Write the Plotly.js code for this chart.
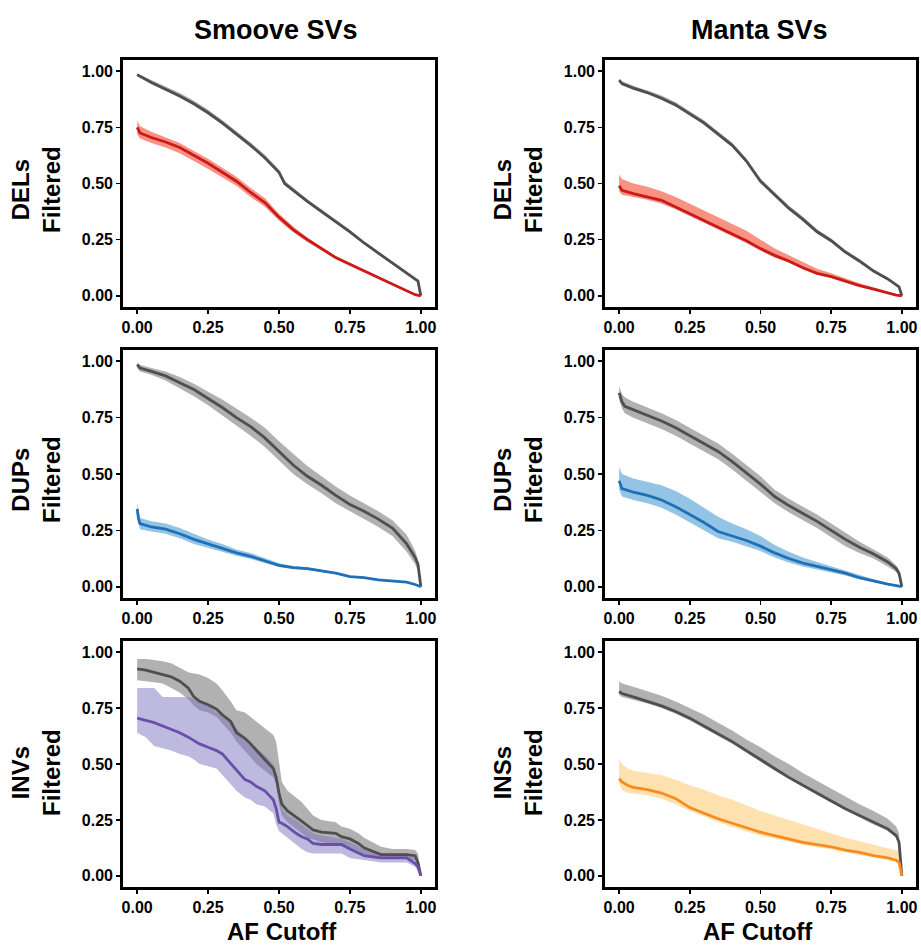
<!DOCTYPE html>
<html>
<head>
<meta charset="utf-8">
<script src="https://cdn.plot.ly/plotly-3.0.1.min.js"></script>
<style>html,body{margin:0;padding:0;background:#fff;}#chart{width:921px;height:948px;}</style>
</head>
<body>
<div id="chart"></div>
<script>
// ---------- DATA ----------
const columnTitles = ["Smoove SVs", "Manta SVs"];
const panelLabels = ["DELs", "DELs", "DUPs", "DUPs", "INVs", "INSs"];
const xTitle = "AF Cutoff";
const tickVals = [0, 0.25, 0.5, 0.75, 1.0];
const tickText = ["0.00", "0.25", "0.50", "0.75", "1.00"];

// Panel 1: Smoove DELs
const p1GrayX = [0, 0.05, 0.1, 0.15, 0.2, 0.25, 0.3, 0.35, 0.4, 0.45, 0.5, 0.52, 0.55, 0.6, 0.65, 0.7, 0.75, 0.8, 0.85, 0.9, 0.95, 0.98, 0.99, 1.0];
const p1GrayY = [0.985, 0.95, 0.92, 0.89, 0.855, 0.815, 0.77, 0.72, 0.67, 0.615, 0.55, 0.50, 0.47, 0.42, 0.375, 0.33, 0.285, 0.235, 0.19, 0.145, 0.10, 0.075, 0.065, 0.0];
const p1GrayHi = [0.99, 0.962, 0.933, 0.903, 0.868, 0.828, 0.783, 0.733, 0.683, 0.628, 0.562, 0.512, 0.482, 0.43, 0.385, 0.34, 0.294, 0.243, 0.197, 0.151, 0.105, 0.08, 0.07, 0.0];
const p1GrayLo = [0.975, 0.942, 0.912, 0.882, 0.847, 0.807, 0.762, 0.712, 0.662, 0.607, 0.542, 0.492, 0.462, 0.413, 0.368, 0.323, 0.279, 0.229, 0.184, 0.14, 0.096, 0.07, 0.06, 0.0];
const p1ColX = [0, 0.01, 0.05, 0.1, 0.15, 0.2, 0.25, 0.3, 0.35, 0.4, 0.45, 0.5, 0.55, 0.6, 0.65, 0.7, 0.75, 0.8, 0.85, 0.9, 0.95, 0.98, 1.0];
const p1ColY = [0.75, 0.725, 0.705, 0.685, 0.66, 0.625, 0.59, 0.55, 0.51, 0.46, 0.415, 0.35, 0.295, 0.25, 0.21, 0.17, 0.14, 0.11, 0.08, 0.05, 0.02, 0.005, 0.0];
const p1ColHi = [0.78, 0.755, 0.73, 0.705, 0.68, 0.645, 0.61, 0.57, 0.53, 0.48, 0.435, 0.365, 0.308, 0.26, 0.218, 0.177, 0.146, 0.115, 0.084, 0.054, 0.023, 0.007, 0.0];
const p1ColLo = [0.72, 0.70, 0.68, 0.66, 0.635, 0.6, 0.565, 0.528, 0.49, 0.44, 0.396, 0.335, 0.283, 0.24, 0.202, 0.163, 0.134, 0.105, 0.076, 0.046, 0.017, 0.003, 0.0];

// Panel 2: Manta DELs
const p2GrayX = [0, 0.01, 0.05, 0.1, 0.15, 0.2, 0.25, 0.3, 0.35, 0.4, 0.45, 0.5, 0.55, 0.6, 0.65, 0.7, 0.75, 0.8, 0.85, 0.9, 0.95, 0.98, 0.99, 1.0];
const p2GrayY = [0.96, 0.945, 0.925, 0.905, 0.88, 0.85, 0.81, 0.77, 0.72, 0.67, 0.6, 0.51, 0.45, 0.39, 0.34, 0.285, 0.245, 0.195, 0.155, 0.11, 0.075, 0.05, 0.04, 0.0];
const p2GrayHi = [0.965, 0.955, 0.935, 0.915, 0.892, 0.862, 0.822, 0.782, 0.732, 0.682, 0.612, 0.522, 0.462, 0.402, 0.352, 0.296, 0.255, 0.204, 0.163, 0.117, 0.08, 0.055, 0.045, 0.0];
const p2GrayLo = [0.955, 0.938, 0.917, 0.897, 0.872, 0.842, 0.802, 0.762, 0.712, 0.662, 0.592, 0.502, 0.442, 0.382, 0.332, 0.278, 0.238, 0.188, 0.148, 0.104, 0.07, 0.046, 0.036, 0.0];
const p2ColX = [0, 0.01, 0.05, 0.1, 0.15, 0.2, 0.25, 0.3, 0.35, 0.4, 0.45, 0.5, 0.55, 0.6, 0.65, 0.7, 0.75, 0.8, 0.85, 0.9, 0.95, 0.98, 1.0];
const p2ColY = [0.49, 0.47, 0.455, 0.44, 0.425, 0.395, 0.365, 0.335, 0.305, 0.275, 0.245, 0.21, 0.18, 0.155, 0.125, 0.10, 0.085, 0.065, 0.045, 0.03, 0.012, 0.003, 0.0];
const p2ColHi = [0.54, 0.52, 0.5, 0.485, 0.465, 0.44, 0.41, 0.38, 0.35, 0.32, 0.29, 0.25, 0.21, 0.18, 0.15, 0.12, 0.1, 0.078, 0.056, 0.038, 0.017, 0.006, 0.0];
const p2ColLo = [0.465, 0.45, 0.44, 0.428, 0.41, 0.385, 0.355, 0.325, 0.295, 0.265, 0.235, 0.2, 0.17, 0.147, 0.118, 0.095, 0.08, 0.06, 0.041, 0.026, 0.01, 0.002, 0.0];

// Panel 3: Smoove DUPs
const p3GrayX = [0, 0.01, 0.05, 0.1, 0.15, 0.2, 0.25, 0.3, 0.35, 0.4, 0.45, 0.5, 0.55, 0.6, 0.65, 0.7, 0.75, 0.8, 0.85, 0.9, 0.95, 0.98, 0.99, 1.0];
const p3GrayY = [0.985, 0.97, 0.955, 0.935, 0.905, 0.875, 0.835, 0.795, 0.75, 0.71, 0.66, 0.6, 0.54, 0.49, 0.45, 0.405, 0.365, 0.335, 0.3, 0.26, 0.19, 0.13, 0.1, 0.0];
const p3GrayHi = [0.995, 0.985, 0.97, 0.955, 0.93, 0.9, 0.865, 0.83, 0.79, 0.75, 0.705, 0.645, 0.59, 0.535, 0.49, 0.445, 0.405, 0.37, 0.335, 0.295, 0.23, 0.16, 0.12, 0.0];
const p3GrayLo = [0.97, 0.955, 0.94, 0.915, 0.88, 0.845, 0.805, 0.76, 0.715, 0.67, 0.62, 0.56, 0.5, 0.455, 0.415, 0.37, 0.335, 0.3, 0.265, 0.225, 0.155, 0.1, 0.07, 0.0];
const p3ColX = [0, 0.005, 0.01, 0.05, 0.1, 0.15, 0.2, 0.25, 0.3, 0.35, 0.4, 0.45, 0.5, 0.55, 0.6, 0.65, 0.7, 0.75, 0.8, 0.85, 0.9, 0.95, 0.98, 1.0];
const p3ColY = [0.345, 0.3, 0.28, 0.265, 0.255, 0.235, 0.21, 0.19, 0.17, 0.15, 0.135, 0.115, 0.095, 0.085, 0.08, 0.07, 0.06, 0.045, 0.04, 0.03, 0.025, 0.02, 0.01, 0.0];
const p3ColHi = [0.37, 0.33, 0.305, 0.29, 0.28, 0.26, 0.235, 0.21, 0.19, 0.165, 0.15, 0.128, 0.104, 0.092, 0.086, 0.075, 0.064, 0.049, 0.043, 0.033, 0.027, 0.022, 0.011, 0.0];
const p3ColLo = [0.33, 0.28, 0.255, 0.245, 0.235, 0.215, 0.19, 0.172, 0.155, 0.137, 0.123, 0.105, 0.088, 0.079, 0.074, 0.065, 0.056, 0.042, 0.037, 0.027, 0.023, 0.018, 0.009, 0.0];

// Panel 4: Manta DUPs
const p4GrayX = [0, 0.01, 0.02, 0.05, 0.1, 0.15, 0.2, 0.25, 0.3, 0.35, 0.4, 0.45, 0.5, 0.55, 0.6, 0.65, 0.7, 0.75, 0.8, 0.85, 0.9, 0.95, 0.98, 0.99, 1.0];
const p4GrayY = [0.86, 0.82, 0.8, 0.785, 0.76, 0.735, 0.705, 0.67, 0.635, 0.6, 0.555, 0.505, 0.455, 0.4, 0.36, 0.325, 0.29, 0.25, 0.21, 0.175, 0.145, 0.11, 0.08, 0.06, 0.0];
const p4GrayHi = [0.89, 0.855, 0.84, 0.82, 0.795, 0.77, 0.74, 0.705, 0.67, 0.635, 0.59, 0.54, 0.49, 0.43, 0.39, 0.355, 0.32, 0.28, 0.24, 0.2, 0.165, 0.13, 0.095, 0.075, 0.0];
const p4GrayLo = [0.83, 0.79, 0.77, 0.75, 0.725, 0.7, 0.67, 0.635, 0.6, 0.565, 0.52, 0.47, 0.42, 0.37, 0.33, 0.295, 0.26, 0.22, 0.18, 0.15, 0.125, 0.09, 0.065, 0.045, 0.0];
const p4ColX = [0, 0.01, 0.05, 0.1, 0.15, 0.2, 0.25, 0.3, 0.35, 0.4, 0.45, 0.5, 0.55, 0.6, 0.65, 0.7, 0.75, 0.8, 0.85, 0.9, 0.95, 1.0];
const p4ColY = [0.47, 0.435, 0.42, 0.405, 0.385, 0.355, 0.32, 0.285, 0.245, 0.225, 0.205, 0.18, 0.15, 0.125, 0.105, 0.09, 0.075, 0.06, 0.04, 0.025, 0.012, 0.0];
const p4ColHi = [0.53, 0.5, 0.48, 0.465, 0.45, 0.425, 0.39, 0.35, 0.31, 0.28, 0.255, 0.225, 0.185, 0.155, 0.13, 0.11, 0.09, 0.073, 0.05, 0.033, 0.017, 0.0];
const p4ColLo = [0.43, 0.4, 0.385, 0.37, 0.35, 0.32, 0.285, 0.25, 0.215, 0.2, 0.18, 0.158, 0.13, 0.108, 0.09, 0.077, 0.064, 0.05, 0.032, 0.019, 0.008, 0.0];

// Panel 5: Smoove INVs
const p5X = [0, 0.03, 0.06, 0.09, 0.12, 0.15, 0.18, 0.2, 0.22, 0.25, 0.28, 0.3, 0.33, 0.35, 0.38, 0.4, 0.42, 0.45, 0.48, 0.49, 0.5, 0.51, 0.53, 0.56, 0.58, 0.6, 0.62, 0.65, 0.7, 0.72, 0.75, 0.78, 0.8, 0.83, 0.86, 0.9, 0.95, 0.98, 0.99, 1.0];
const p5GrayY = [0.925, 0.92, 0.91, 0.9, 0.89, 0.87, 0.84, 0.8, 0.78, 0.765, 0.745, 0.72, 0.69, 0.64, 0.615, 0.59, 0.56, 0.52, 0.48, 0.44, 0.37, 0.32, 0.29, 0.265, 0.245, 0.225, 0.205, 0.195, 0.19, 0.175, 0.165, 0.145, 0.125, 0.11, 0.095, 0.095, 0.095, 0.09, 0.06, 0.0];
const p5GrayHi = [0.97, 0.97, 0.965, 0.96, 0.95, 0.93, 0.91, 0.905, 0.9, 0.885, 0.86, 0.83, 0.78, 0.74, 0.73, 0.71, 0.69, 0.66, 0.63, 0.6, 0.5, 0.42, 0.38, 0.35, 0.33, 0.3, 0.27, 0.25, 0.24, 0.22, 0.21, 0.19, 0.17, 0.15, 0.13, 0.12, 0.12, 0.115, 0.1, 0.0];
const p5GrayLo = [0.875, 0.87, 0.865, 0.86, 0.84, 0.82, 0.79, 0.76, 0.74, 0.73, 0.71, 0.68, 0.64, 0.6, 0.56, 0.53, 0.5, 0.47, 0.44, 0.41, 0.32, 0.27, 0.24, 0.21, 0.19, 0.17, 0.16, 0.15, 0.14, 0.13, 0.12, 0.1, 0.09, 0.08, 0.075, 0.075, 0.075, 0.07, 0.04, 0.0];
const p5ColY = [0.705, 0.695, 0.685, 0.67, 0.655, 0.64, 0.62, 0.605, 0.59, 0.575, 0.56, 0.545, 0.5, 0.47, 0.43, 0.42, 0.4, 0.38, 0.34, 0.3, 0.24, 0.235, 0.22, 0.19, 0.175, 0.165, 0.145, 0.14, 0.14, 0.14, 0.12, 0.1, 0.09, 0.085, 0.08, 0.08, 0.08, 0.055, 0.04, 0.0];
const p5ColHi = [0.84, 0.84, 0.84, 0.8, 0.8, 0.8, 0.8, 0.79, 0.78, 0.76, 0.73, 0.72, 0.69, 0.66, 0.62, 0.6, 0.57, 0.54, 0.5, 0.45, 0.38, 0.3, 0.27, 0.25, 0.23, 0.21, 0.19, 0.18, 0.17, 0.165, 0.15, 0.13, 0.12, 0.11, 0.1, 0.1, 0.095, 0.08, 0.06, 0.0];
const p5ColLo = [0.64, 0.62, 0.58, 0.57, 0.56, 0.545, 0.535, 0.52, 0.5, 0.49, 0.48, 0.45, 0.41, 0.38, 0.35, 0.34, 0.32, 0.31, 0.28, 0.23, 0.2, 0.19, 0.17, 0.14, 0.12, 0.105, 0.1, 0.1, 0.1, 0.1, 0.08, 0.075, 0.07, 0.065, 0.06, 0.06, 0.06, 0.04, 0.02, 0.0];

// Panel 6: Manta INSs
const p6GrayX = [0, 0.01, 0.05, 0.1, 0.15, 0.2, 0.25, 0.3, 0.35, 0.4, 0.45, 0.5, 0.55, 0.6, 0.65, 0.7, 0.75, 0.8, 0.85, 0.9, 0.95, 0.98, 0.99, 1.0];
const p6GrayY = [0.825, 0.815, 0.8, 0.78, 0.76, 0.735, 0.705, 0.67, 0.635, 0.6, 0.56, 0.52, 0.48, 0.44, 0.405, 0.37, 0.335, 0.3, 0.27, 0.24, 0.21, 0.18, 0.15, 0.0];
const p6GrayHi = [0.87, 0.86, 0.845, 0.825, 0.805, 0.78, 0.75, 0.72, 0.685, 0.65, 0.61, 0.575, 0.535, 0.5, 0.46, 0.425, 0.39, 0.355, 0.32, 0.29, 0.255, 0.22, 0.19, 0.0];
const p6GrayLo = [0.81, 0.8, 0.785, 0.77, 0.75, 0.725, 0.695, 0.66, 0.625, 0.59, 0.55, 0.51, 0.47, 0.432, 0.398, 0.363, 0.328, 0.293, 0.262, 0.23, 0.2, 0.17, 0.14, 0.0];
const p6ColX = [0, 0.01, 0.03, 0.05, 0.1, 0.15, 0.2, 0.25, 0.3, 0.35, 0.4, 0.45, 0.5, 0.55, 0.6, 0.65, 0.7, 0.75, 0.8, 0.85, 0.9, 0.95, 0.98, 0.99, 1.0];
const p6ColY = [0.435, 0.42, 0.405, 0.395, 0.385, 0.37, 0.345, 0.305, 0.28, 0.255, 0.235, 0.215, 0.195, 0.18, 0.165, 0.15, 0.14, 0.13, 0.115, 0.105, 0.09, 0.08, 0.07, 0.06, 0.0];
const p6ColHi = [0.52, 0.5, 0.48, 0.47, 0.46, 0.45, 0.43, 0.405, 0.385, 0.36, 0.34, 0.315, 0.29, 0.27, 0.25, 0.23, 0.21, 0.19, 0.17, 0.155, 0.14, 0.125, 0.115, 0.11, 0.0];
const p6ColLo = [0.41, 0.385, 0.37, 0.365, 0.36, 0.345, 0.32, 0.29, 0.265, 0.24, 0.218, 0.198, 0.18, 0.165, 0.152, 0.138, 0.128, 0.118, 0.105, 0.095, 0.082, 0.072, 0.063, 0.053, 0.0];

// ---------- STYLE / LAYOUT ----------
const FONT = "Liberation Sans, Arial, Helvetica, sans-serif";
const W = 921, H = 948;
const colPx = [[123, 435], [605, 916]];
const rowPx = [[60, 307], [350, 598], [641, 887]];
const colors = {
  gray: {line: "#4f4f4f", band: "rgba(120,120,120,0.58)"},
  red: {line: "#cb1a1a", band: "rgba(247,110,90,0.75)"},
  blue: {line: "#2070b8", band: "rgba(90,165,215,0.65)"},
  purple: {line: "#6a4fa8", band: "rgba(125,115,190,0.5)"},
  orange: {line: "#f78c1e", band: "rgba(254,205,120,0.6)"}
};

const panels = [
  {gx: p1GrayX, gy: p1GrayY, ghi: p1GrayHi, glo: p1GrayLo, cx: p1ColX, cy: p1ColY, chi: p1ColHi, clo: p1ColLo, col: "red"},
  {gx: p2GrayX, gy: p2GrayY, ghi: p2GrayHi, glo: p2GrayLo, cx: p2ColX, cy: p2ColY, chi: p2ColHi, clo: p2ColLo, col: "red"},
  {gx: p3GrayX, gy: p3GrayY, ghi: p3GrayHi, glo: p3GrayLo, cx: p3ColX, cy: p3ColY, chi: p3ColHi, clo: p3ColLo, col: "blue"},
  {gx: p4GrayX, gy: p4GrayY, ghi: p4GrayHi, glo: p4GrayLo, cx: p4ColX, cy: p4ColY, chi: p4ColHi, clo: p4ColLo, col: "blue"},
  {gx: p5X, gy: p5GrayY, ghi: p5GrayHi, glo: p5GrayLo, cx: p5X, cy: p5ColY, chi: p5ColHi, clo: p5ColLo, col: "purple"},
  {gx: p6GrayX, gy: p6GrayY, ghi: p6GrayHi, glo: p6GrayLo, cx: p6ColX, cy: p6ColY, chi: p6ColHi, clo: p6ColLo, col: "orange"}
];

function band(xs, hi, lo, color, xa, ya) {
  return {
    x: xs.concat(xs.slice().reverse()),
    y: hi.concat(lo.slice().reverse()),
    xaxis: xa, yaxis: ya, type: "scatter", mode: "lines",
    fill: "toself", fillcolor: color, line: {width: 0}, hoverinfo: "skip"
  };
}
function line(xs, ys, color, xa, ya) {
  return {x: xs, y: ys, xaxis: xa, yaxis: ya, type: "scatter", mode: "lines",
    line: {color: color, width: 2.8}};
}

const traces = [];
const layout = {
  width: W, height: H,
  margin: {l: 0, r: 0, t: 0, b: 0},
  paper_bgcolor: "#ffffff", plot_bgcolor: "#ffffff",
  showlegend: false,
  font: {family: FONT, color: "#000"},
  annotations: []
};

panels.forEach((p, i) => {
  const k = i + 1;
  const xa = "x" + (k === 1 ? "" : k), ya = "y" + (k === 1 ? "" : k);
  const row = Math.floor(i / 2), col = i % 2;
  traces.push(band(p.gx, p.ghi, p.glo, colors.gray.band, xa, ya));
  traces.push(band(p.cx, p.chi, p.clo, colors[p.col].band, xa, ya));
  traces.push(line(p.gx, p.gy, colors.gray.line, xa, ya));
  traces.push(line(p.cx, p.cy, colors[p.col].line, xa, ya));
  const axBase = {
    range: [-0.05, 1.05], showgrid: false, zeroline: false,
    showline: true, mirror: true, linecolor: "#000", linewidth: 2.8,
    ticks: "outside", ticklen: 4, tickwidth: 1.6, tickcolor: "#000",
    tickvals: tickVals, ticktext: tickText,
    tickfont: {family: FONT, size: 16, color: "#000", weight: "bold"}
  };
  layout["xaxis" + (k === 1 ? "" : k)] = Object.assign({}, axBase, {
    domain: [colPx[col][0] / W, colPx[col][1] / W], anchor: ya
  });
  layout["yaxis" + (k === 1 ? "" : k)] = Object.assign({}, axBase, {
    domain: [1 - rowPx[row][1] / H, 1 - rowPx[row][0] / H], anchor: xa
  });
  const ylabX = [36, 518][col];
  const ylabY = [190, 480, 773][row];
  layout.annotations.push({
    text: panelLabels[i] + "<br>Filtered", textangle: -90,
    xref: "paper", yref: "paper", x: ylabX / W, y: 1 - ylabY / H,
    xanchor: "center", yanchor: "middle", showarrow: false,
    font: {family: FONT, size: 24, color: "#000", weight: "bold"}
  });
});

columnTitles.forEach((t, c) => {
  layout.annotations.push({
    text: t, xref: "paper", yref: "paper", x: [276, 759][c] / W, y: 1 - 30 / H,
    xanchor: "center", yanchor: "middle", showarrow: false,
    font: {family: FONT, size: 27, color: "#000", weight: "bold"}
  });
  layout.annotations.push({
    text: xTitle, xref: "paper", yref: "paper", x: [282, 758][c] / W, y: 1 - 931 / H,
    xanchor: "center", yanchor: "middle", showarrow: false,
    font: {family: FONT, size: 24, color: "#000", weight: "bold"}
  });
});

Plotly.newPlot("chart", traces, layout, {displayModeBar: false, staticPlot: true});
</script>
</body>
</html>
